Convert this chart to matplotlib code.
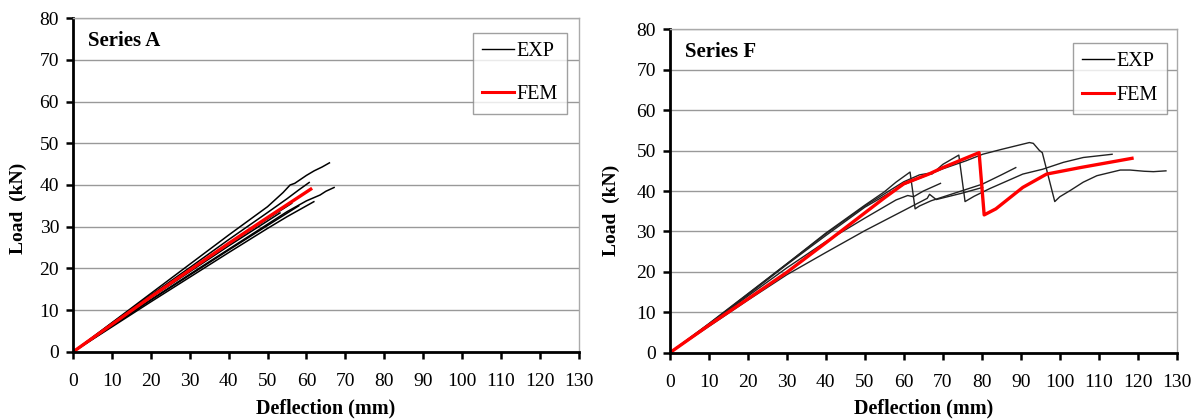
import matplotlib.pyplot as plt
from matplotlib.lines import Line2D

# ---- Series A ----
a_exp_x = [
    [0, 10, 20, 30, 40, 50, 54, 55.8, 57, 60, 62, 64, 65.9],
    [0, 10, 20, 30, 40, 50, 55, 58, 60.7],
    [0, 10, 20, 30, 40, 50, 55, 60, 63.5, 65, 67.1],
    [0, 10, 20, 30, 40, 50, 55, 61.9],
    [0, 10, 20, 30, 40, 50, 56.2],
    [0, 10, 20, 30, 40, 53.2],
    [0, 10, 20, 30, 40, 50, 58],
]
a_exp_y = [
    [0, 7.0, 14.0, 21.0, 28.0, 34.8, 38.2, 40.0, 40.4, 42.3, 43.4, 44.3, 45.3],
    [0, 6.9, 13.6, 20.2, 26.9, 33.4, 36.7, 38.8, 40.6],
    [0, 6.3, 12.5, 18.6, 24.6, 30.6, 33.6, 36.2, 37.6, 38.5, 39.4],
    [0, 6.0, 12.0, 17.9, 23.8, 29.6, 32.4, 36.0],
    [0, 6.6, 13.1, 19.5, 25.8, 31.9, 35.6],
    [0, 6.5, 13.0, 19.2, 25.4, 33.3],
    [0, 6.2, 12.4, 18.4, 24.4, 30.3, 35.0],
]
a_fem_x = [0, 10, 20, 30, 40, 50, 61.1]
a_fem_y = [0, 6.6, 13.2, 19.6, 26.0, 32.2, 39.0]

# ---- Series F ----
f_exp_x = [
    [0, 10, 20, 30, 40, 50, 55, 58, 61.6, 62.9, 64, 67, 75, 80.1, 85, 88.7],
    [0, 10, 20, 30, 40, 50, 60, 64, 66.4, 67.2, 70, 74.1, 75.7, 78, 82, 90.5, 95.6, 100.9, 106, 113.4],
    [0, 10, 20, 30, 40, 50, 60, 70, 76, 80.2, 85, 88.8, 92.2, 93.2, 94.8, 95.5, 98.7, 100, 102.6,
     106, 109.5, 115.5, 118, 121.6, 124, 127.2],
    [0, 10, 20, 30, 40, 50, 60, 66, 66.6, 68.3, 75, 80.2],
    [0, 10, 20, 30, 40, 50, 58, 61, 62.5, 65, 69.4],
]
f_exp_y = [
    [0, 7.2, 14.6, 22.0, 29.6, 36.5, 39.8, 42.2, 44.7, 35.6, 36.3, 37.6, 40.1, 41.7, 44.0, 45.8],
    [0, 7.1, 14.5, 22.0, 29.4, 36.3, 42.3, 44.0, 44.4, 44.2, 46.6, 48.9, 37.4, 38.7, 40.6, 44.2, 45.4,
     47.1, 48.3, 49.1],
    [0, 7.0, 14.3, 21.8, 29.0, 36.0, 41.6, 45.5, 47.5, 49.1, 50.3, 51.2, 52.0, 51.8, 50.0, 49.5, 37.4,
     38.6, 40.1, 42.2, 43.8, 45.2, 45.2, 44.9, 44.8, 45.0],
    [0, 6.5, 13.0, 19.3, 24.8, 30.2, 35.2, 38.2, 39.2, 37.9, 39.5, 40.9],
    [0, 6.9, 14.0, 21.0, 27.5, 33.3, 37.8, 38.9, 38.6, 40.0, 41.9],
]
f_fem_x = [0, 10, 20, 30, 40, 50, 55, 60, 66.4, 70, 75, 79.3, 80.6, 83.6, 90.5, 96.6, 105.2, 118.5]
f_fem_y = [0, 6.8, 13.3, 19.9, 27.2, 34.6, 38.3, 41.8, 44.2, 45.8, 47.8, 49.5, 34.1, 35.6, 40.9,
           44.2, 45.8, 48.1]

xticks = list(range(0, 131, 10))
yticks = list(range(0, 81, 10))

plt.rcParams['font.family'] = ['Liberation Serif', 'DejaVu Serif']

fig = plt.figure(figsize=(11.96, 4.19), dpi=100)
ax1 = fig.add_axes([0.061, 0.160, 0.423, 0.797])
ax2 = fig.add_axes([0.560, 0.158, 0.424, 0.772])


def style(ax, title, leg_anchor, spacing, ylab_x, ylab_y):
    ax.set_xlim(0, 130)
    ax.set_ylim(0, 80)
    ax.set_xticks(xticks)
    ax.set_yticks(yticks)
    ax.tick_params(labelsize=14, direction='out', length=5, width=1.8, colors='black')
    ax.tick_params(axis='x', pad=10)
    ax.tick_params(axis='y', pad=5)
    ax.yaxis.grid(True, color='#999999', lw=1.0)
    ax.set_axisbelow(True)
    for s in ['left', 'bottom']:
        ax.spines[s].set_color('black')
        ax.spines[s].set_linewidth(2.0)
    for s in ['top', 'right']:
        ax.spines[s].set_color('#aaaaaa')
        ax.spines[s].set_linewidth(1.0)
    ax.set_xlabel('Deflection (mm)', fontsize=14.5, fontweight='bold', labelpad=6)
    ax.set_ylabel('Load  (kN)', fontsize=14, fontweight='bold')
    ax.yaxis.set_label_coords(ylab_x, ylab_y)
    ax.text(0.03, 0.93, title, transform=ax.transAxes, fontsize=15, fontweight='bold',
            va='center', ha='left')
    handles = [Line2D([], [], color='black', lw=1.0), Line2D([], [], color='red', lw=2.2)]
    leg = ax.legend(handles, ['EXP', 'FEM'], loc='upper right', bbox_to_anchor=leg_anchor,
                    fontsize=14.5, frameon=True, fancybox=False, edgecolor='#888888',
                    handlelength=1.6, handletextpad=0.1, labelspacing=spacing,
                    borderpad=0.45, borderaxespad=0)
    leg.get_frame().set_linewidth(1.0)


for xs, ys in zip(a_exp_x, a_exp_y):
    ax1.plot(xs, ys, color='black', lw=1.1)
ax1.plot(a_fem_x, a_fem_y, color='red', lw=2.4)
style(ax1, 'Series A', (0.976, 0.955), 1.2, -0.091, 0.43)

for xs, ys in zip(f_exp_x, f_exp_y):
    ax2.plot(xs, ys, color='#222222', lw=1.0)
ax2.plot(f_fem_x, f_fem_y, color='red', lw=2.4)
style(ax2, 'Series F', (0.98, 0.957), 0.7, -0.099, 0.44)

fig.savefig('out.png', dpi=100)
